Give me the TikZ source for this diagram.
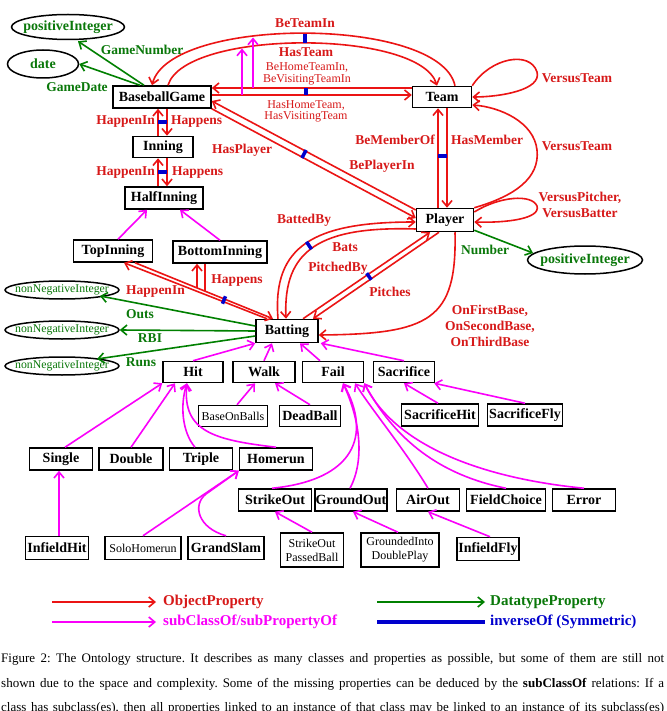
\documentclass[tikz,border=0pt]{standalone}
\usepackage{fontspec}
\setmainfont{Liberation Serif}
\usetikzlibrary{arrows.meta,shapes.geometric,calc}
\definecolor{ored}{RGB}{235,20,20}
\definecolor{lred}{RGB}{215,25,25}
\definecolor{mag}{RGB}{250,0,250}
\definecolor{dgreen}{RGB}{0,128,0}
\definecolor{gtext}{RGB}{10,120,10}
\definecolor{iblue}{RGB}{0,0,205}
\frenchspacing
\begin{document}
\begin{tikzpicture}[x=1pt,y=-1pt,
  cls/.style={draw,line width=1.5pt,fill=white,inner sep=0pt,minimum height=22pt,font=\fontsize{14}{16}\selectfont\bfseries},
  clsr/.style={cls,font=\fontsize{12}{14}\selectfont,align=center},
  dtype/.style={ellipse,draw,line width=1.5pt,inner sep=0pt},
  dlab/.style={text=gtext,font=\fontsize{14}{16}\selectfont\bfseries},
  dlabs/.style={text=gtext,font=\fontsize{11.8}{14}\selectfont},
  lbl/.style={text=lred,inner sep=0pt,align=center,font=\fontsize{13.5}{16}\selectfont\bfseries},
  lblr/.style={lbl,font=\fontsize{12}{11.5}\selectfont},
  glbl/.style={lbl,text=gtext},
  tipstyle/.style={-{Straight Barb[length=6pt,width=10pt]}},
  op/.style={draw=ored,line width=1.6pt,tipstyle},
  opn/.style={draw=ored,line width=1.6pt},
  sub/.style={draw=mag,line width=1.6pt,tipstyle},
  dp/.style={draw=dgreen,line width=1.6pt,tipstyle},
  inv/.style={fill=iblue,inner sep=0pt,minimum width=3.5pt,minimum height=9pt},
  legtext/.style={anchor=west,inner sep=0pt,font=\fontsize{15}{17}\selectfont\bfseries},
  captext/.style={anchor=west,inner sep=0pt,font=\fontsize{13}{15}\selectfont},
]
\useasboundingbox (0,0) rectangle (666,711);
\fill[white] (0,0) rectangle (666,711);
\clip (0,0) rectangle (666,711);

% ---------- datatype ellipses ----------
\node[dtype,minimum width=113pt,minimum height=25pt,label={[dlab]center:positiveInteger}] (pi1) at (68,27) {};
\node[dtype,minimum width=71pt,minimum height=28pt,label={[dlab]center:date}] (date) at (43,64) {};
\node[dtype,minimum width=115pt,minimum height=28pt,label={[dlab]center:positiveInteger}] (pi2) at (585,260) {};
\node[dtype,minimum width=114pt,minimum height=18pt,label={[dlabs]center:nonNegativeInteger}] (nn1) at (62,290) {};
\node[dtype,minimum width=114pt,minimum height=18pt,label={[dlabs]center:nonNegativeInteger}] (nn2) at (62,330) {};
\node[dtype,minimum width=114pt,minimum height=18pt,label={[dlabs]center:nonNegativeInteger}] (nn3) at (62,366) {};

% ---------- classes ----------
\node[cls,minimum width=98pt] (bg) at (162,97) {BaseballGame};
\node[cls,minimum width=59pt,minimum height=21pt] (team) at (442,97) {Team};
\node[cls,minimum width=60pt,minimum height=21pt] (inn) at (163,147) {Inning};
\node[cls,minimum width=78pt] (half) at (164,198) {HalfInning};
\node[cls,minimum width=57pt,minimum height=23pt] (player) at (445,220) {Player};
\node[cls,minimum width=79pt] (top) at (113,251) {TopInning};
\node[cls,minimum width=94pt] (bottom) at (220,252) {BottomInning};
\node[cls,minimum width=62pt,minimum height=23pt] (bat) at (287,331) {Batting};
\node[cls,minimum width=60pt,minimum height=21pt] (hit) at (193,372) {Hit};
\node[cls,minimum width=62pt,minimum height=21pt] (walk) at (264,372) {Walk};
\node[cls,minimum width=61pt,minimum height=21pt] (fail) at (333,372) {Fail};
\node[cls,minimum width=61pt,minimum height=21pt] (sac) at (404,372) {Sacrifice};
\node[clsr,minimum width=69pt,minimum height=21pt] (bob) at (233,416) {BaseOnBalls};
\node[cls,minimum width=61pt,minimum height=21pt] (dead) at (310,416) {DeadBall};
\node[cls,minimum width=77pt] (sachit) at (440,415) {SacrificeHit};
\node[cls,minimum width=75pt] (sacfly) at (525,415) {SacrificeFly};
\node[cls,minimum width=63pt] (single) at (61,459) {Single};
\node[cls,minimum width=64pt] (double) at (131,459) {Double};
\node[cls,minimum width=63pt] (triple) at (201,459) {Triple};
\node[cls,minimum width=73pt] (homerun) at (276,459) {Homerun};
\node[cls,minimum width=73pt] (strike) at (275,500) {StrikeOut};
\node[cls,minimum width=72pt] (ground) at (351,500) {GroundOut};
\node[cls,minimum width=63pt] (airout) at (428,500) {AirOut};
\node[cls,minimum width=79pt] (fc) at (506,500) {FieldChoice};
\node[cls,minimum width=63pt] (error) at (584,500) {Error};
\node[cls,minimum width=63pt,minimum height=23pt] (ifhit) at (57,548) {InfieldHit};
\node[clsr,minimum width=76pt,minimum height=23pt] (solo) at (143,548) {SoloHomerun};
\node[cls,minimum width=76pt,minimum height=23pt] (grand) at (226,548) {GrandSlam};
\node[clsr,minimum width=63pt,minimum height=34pt] (sopb) at (312,550) {StrikeOut\\PassedBall};
\node[clsr,minimum width=78pt,minimum height=34pt] (gidp) at (400,550) {GroundedInto\\DoublePlay};
\node[cls,minimum width=62pt,minimum height=23pt] (iffly) at (488,549) {InfieldFly};

% ---------- BaseballGame -- Team ----------
\draw[op] ([xshift=13pt]team.north) .. controls (440,16) and (170,16) .. ([xshift=-10pt]bg.north);
\draw[op] ([xshift=6pt]bg.north) .. controls (185,29) and (420,29) .. ([xshift=-5pt]team.north);
\draw[op] ([yshift=9pt]team.west) -- ([yshift=9pt]bg.east);
\draw[op] ([yshift=2pt]bg.east) -- ([yshift=2pt]team.west);
\coordinate (hsA) at (242,95); \coordinate (hsB) at (242,48.5);
\coordinate (btA) at (253,88); \coordinate (btB) at (253,37.5);
\draw[sub] (hsA) -- (hsB);
\draw[sub] (btA) -- (btB);
\node[inv] (m1) at (305,38.5) {};
\node[inv,minimum height=7pt] (m2) at (306,91.5) {};
\node[lbl] (lBeTeamIn) at (305,23) {BeTeamIn};
\node[lbl] (lHasTeam) at (306,52) {HasTeam};
\node[lblr] (lBeHome) at (307,74) {BeHomeTeamIn,\\BeVisitingTeamIn};
\node[lblr] (lHasHome) at (306,111.5) {HasHomeTeam,\\HasVisitingTeam};

% ---------- BaseballGame -- Inning -- HalfInning ----------
\draw[op] ([xshift=-5pt]inn.north) -- ([xshift=-4pt]bg.south);
\draw[op] ([xshift=5pt]bg.south) -- ([xshift=4pt]inn.north);
\draw[op] ([xshift=-6pt]half.north) -- ([xshift=-5pt]inn.south);
\draw[op] ([xshift=4pt]inn.south) -- ([xshift=3pt]half.north);
\node[inv,rotate=90] (m3) at (162.5,122) {};
\node[inv,rotate=90] (m4) at (162.5,172) {};
\node[lbl,anchor=east] (lHI1) at (155,122) {HappenIn};
\node[lbl,anchor=west] (lHs1) at (171,122) {Happens};
\node[lbl,anchor=east] (lHI2) at (155,173) {HappenIn};
\node[lbl,anchor=west] (lHs2) at (172,173) {Happens};

% ---------- Top/Bottom inning ----------
\draw[sub] ([xshift=5pt]top.north) -- ([xshift=-17pt]half.south);
\draw[sub] (bottom.north) -- ([xshift=16pt]half.south);
\draw[op] ([xshift=-20pt]bat.north) -- ([xshift=11pt]top.south);
\draw[op] ([xshift=22pt]top.south) -- ([xshift=-14pt]bat.north);
\coordinate (brA) at (197,287.8);
\coordinate (brB) at (205,291.2);
\draw[op] (brA) -- ([xshift=-23pt]bottom.south);
\draw[opn] ([xshift=-15pt]bottom.south) -- (brB);
\node[inv,rotate=-22,minimum height=8pt] (m5) at (224,300) {};
\node[lbl] (lHI3) at (155.5,292) {HappenIn};
\node[lbl] (lHs3) at (237,281) {Happens};

% ---------- green from BaseballGame ----------
\draw[dp] ([xshift=-18pt]bg.north) -- ([xshift=10pt,yshift=-1pt]pi1.south);
\draw[dp] ([xshift=-22pt]bg.north) -- (date.east);
\node[glbl] (lGN) at (142,50) {GameNumber};
\node[glbl] (lGD) at (77,87) {GameDate};

% ---------- BaseballGame -- Player ----------
\draw[op] ([yshift=10pt]player.west) -- ([yshift=-4pt]bg.east);
\draw[op] (bg.south east) -- ([yshift=2pt]player.west);
\node[inv,rotate=-28] (m6) at (304,154) {};
\node[lbl] (lHP) at (242,150) {HasPlayer};
\node[lbl] (lBP) at (382,166) {BePlayerIn};

% ---------- Team -- Player ----------
\draw[op] ([xshift=-7pt]player.north) -- ([xshift=-4pt]team.south);
\draw[op] ([xshift=5pt]team.south) -- ([xshift=2pt]player.north);
\node[inv,rotate=90] (m7) at (442.5,156) {};
\node[lbl,anchor=east] (lBM) at (435,140) {BeMemberOf};
\node[lbl,anchor=west] (lHM) at (451,140) {HasMember};

% ---------- Versus loops ----------
\draw[op] (team.north east) .. controls (490,58) and (530,50) .. (537,72) .. controls (542,90) and (500,97) .. (team.east);
\draw[op] (player.north east) .. controls (515,196) and (540,178) .. (537,150) .. controls (534,122) and (500,107) .. ([yshift=-8pt]team.east);
\draw[op] ([yshift=8pt]player.east) .. controls (500,196) and (532,194) .. (537,206) .. controls (541,219) and (505,223) .. ([yshift=-2pt]player.east);
\node[lbl] (lVT1) at (577,78) {VersusTeam};
\node[lbl] (lVT2) at (577,146) {VersusTeam};
\node[lbl] (lVP) at (580,205) {VersusPitcher,\\VersusBatter};

% ---------- Player number ----------
\draw[dp] ([yshift=2pt]player.south east) -- ([shift={(-52,-7)}]pi2.center);
\node[glbl] (lNum) at (485,250) {Number};

% ---------- Player -- Batting ----------
\draw[op] ([xshift=10pt]player.south) .. controls (457,320) and (430,334) .. ([yshift=-4pt]bat.east);
\node[lbl] (lOn) at (490,325.5) {OnFirstBase,\\OnSecondBase,\\OnThirdBase};
\draw[op] ([xshift=-9pt]bat.north) .. controls (272,245) and (315,222) .. ([yshift=-2pt]player.west);
\draw[op] ([yshift=-9pt]player.west) .. controls (320,226) and (283,250) .. ([xshift=-1pt]bat.north);
\node[inv,rotate=34] (m8) at (309,245.5) {};
\draw[op] ([xshift=16pt]bat.north) -- ([xshift=-15pt]player.south);
\draw[op] ([xshift=-6pt]player.south) -- ([xshift=26pt]bat.north);
\node[inv,rotate=35,minimum height=8pt] (m9) at (369,276.5) {};
\node[lbl] (lBB) at (304,220) {BattedBy};
\node[lbl] (lBats) at (345,247) {Bats};
\node[lbl] (lPB) at (338,268) {PitchedBy};
\node[lbl] (lPi) at (390,292) {Pitches};

% ---------- green from Batting ----------
\draw[dp] ([yshift=5pt]bat.west) -- ([shift={(38,6)}]nn1.center);
\draw[dp] (bat.west) -- (nn2.east);
\draw[dp] ([yshift=-5pt]bat.west) -- ([shift={(35,-7)}]nn3.center);
\node[glbl] (lOuts) at (140,314) {Outs};
\node[glbl] (lRBI) at (150,338) {RBI};
\node[glbl] (lRuns) at (141,362) {Runs};

% ---------- subclass hierarchy ----------
\draw[sub] (hit.north) -- (bat.south west);
\draw[sub] (walk.north) -- ([xshift=-15pt]bat.south);
\draw[sub] ([xshift=-13pt]fail.north) -- ([xshift=13pt]bat.south);
\draw[sub] (sac.north) -- ([xshift=2pt]bat.south east);

\draw[sub] ([xshift=4pt]single.north) -- (hit.south west);
\draw[sub] (double.north) -- ([xshift=-18pt]hit.south);
\draw[sub] ([xshift=-6pt]triple.north) .. controls (182,432) and (180,405) .. ([xshift=-6pt]hit.south);
\draw[sub] (homerun.north) .. controls (215,440) and (182,432) .. ([xshift=-6pt]hit.south);

\draw[sub] ([xshift=4pt]bob.north) -- ([xshift=-9pt]walk.south);
\draw[sub] (dead.north) -- ([xshift=11pt]walk.south);

\draw[sub] ([xshift=-2pt]sachit.north) -- (sac.south);
\draw[sub] (sacfly.north) -- ([xshift=-1pt]sac.south east);

\draw[sub] ([xshift=-3pt]strike.north) .. controls (355,480) and (372,435) .. ([xshift=10pt]fail.south);
\draw[sub] ([xshift=-1pt]ground.north) .. controls (365,460) and (360,420) .. ([xshift=10pt]fail.south);
\draw[sub] (airout.north) .. controls (405,450) and (372,410) .. ([xshift=22pt]fail.south);
\draw[sub] (fc.north) .. controls (440,475) and (395,440) .. (fail.south east);
\draw[sub] (error.north) .. controls (480,478) and (395,445) .. (fail.south east);

\draw[sub] (sopb.north) -- (strike.south);
\draw[sub] ([xshift=-2pt]gidp.north) -- ([xshift=2pt]ground.south);
\draw[sub] ([xshift=2pt]iffly.north) -- (airout.south);

\draw[sub] ([xshift=2pt]ifhit.north) -- ([xshift=-2pt]single.south);
\draw[sub] (solo.north) -- (homerun.south west);
\draw[sub] (grand.north) .. controls (198,528) and (192,505) .. (206,494) -- (homerun.south west);

% ---------- legend ----------
\coordinate (la1) at (52,602); \coordinate (lb1) at (156,602);
\coordinate (la2) at (52,622); \coordinate (lb2) at (156,622);
\coordinate (la3) at (377,602); \coordinate (lb3) at (485,602);
\coordinate (la4) at (377,622); \coordinate (lb4) at (485,622);
\draw[op] (la1) -- (lb1);
\draw[sub] (la2) -- (lb2);
\draw[dp] (la3) -- (lb3);
\draw[draw=iblue,line width=4pt] (la4) -- (lb4);
\node[legtext,text=lred] (lgOP) at (163,602) {ObjectProperty};
\node[legtext,text=mag] (lgSC) at (163,622) {subClassOf/subPropertyOf};
\node[legtext,text=gtext] (lgDP) at (490,602) {DatatypeProperty};
\node[legtext,text=iblue] (lgIO) at (490,622) {inverseOf (Symmetric)};

% ---------- caption ----------
\node[captext] (cap1) at (1,659) {\makebox[663pt][s]{Figure 2: The Ontology structure. It describes as many classes and properties as possible, but some of them are still not}};
\node[captext] (cap2) at (1,684) {\makebox[663pt][s]{shown due to the space and complexity. Some of the missing properties can be deduced by the \textbf{subClassOf} relations: If a}};
\node[captext] (cap3) at (1,708) {\makebox[663pt][s]{class has subclass(es), then all properties linked to an instance of that class may be linked to an instance of its subclass(es)}};
\end{tikzpicture}
\end{document}
